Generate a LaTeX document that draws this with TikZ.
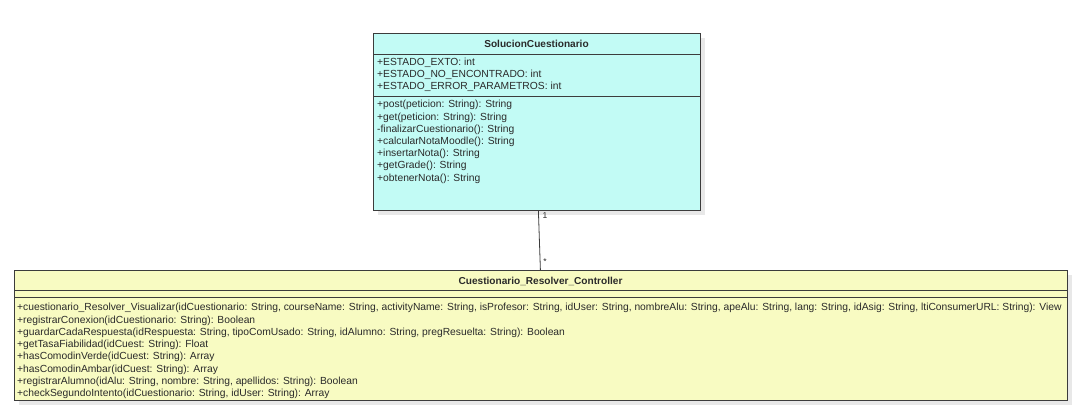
\documentclass[tikz,border=0pt]{standalone}
\usepackage{fontspec}
\setmainfont{Liberation Sans}
\begin{document}
\begin{tikzpicture}[x=1pt,y=-1pt,
  classA/.style={draw=linec, fill=cyanfill, line width=0.8pt, inner sep=0pt, anchor=north west},
  classB/.style={draw=linec, fill=yelfill, line width=0.8pt, inner sep=0pt, anchor=north west},
  member/.style={anchor=base west, inner sep=0pt, font=\fontsize{10.3}{12}\selectfont, text=textc},
  title/.style={anchor=base, inner sep=0pt, font=\fontsize{10.1}{12}\selectfont\bfseries, text=textc},
  mult/.style={inner sep=0pt, font=\fontsize{8.5}{10}\selectfont, text=textc},
  sep/.style={draw=linec, line width=0.8pt},
  assoc/.style={draw=linec, line width=0.8pt}]
\definecolor{cyanfill}{HTML}{C2FBF5}
\definecolor{yelfill}{HTML}{F8FBC2}
\definecolor{linec}{HTML}{3C3C3C}
\definecolor{shadowc}{HTML}{E8E8E8}
\definecolor{textc}{HTML}{2A2A2A}
\useasboundingbox (0,0) rectangle (1085,414);
\fill[white] (0,0) rectangle (1085,414);
% shadows
\fill[shadowc] (378,38) rectangle (705,215);
\fill[shadowc] (19,275) rectangle (1072,405);
% top class
\node[classA, minimum width=327pt, minimum height=177pt] (sol) at (373,33) {};
\draw[sep] (373,54) -- (700,54);
\draw[sep] (373,96) -- (700,96);
\node[title] (solt) at (536.5,48) {SolucionCuestionario};
\foreach \t [count=\i] in {{+ESTADO\_EXTO: int},{+ESTADO\_NO\_ENCONTRADO: int},{+ESTADO\_ERROR\_PARAMETROS: int}}
  \node[member] (sa\i) at (377,{66+12*(\i-1)}) {\t};
\foreach \t [count=\i] in {{+post(peticion: String): String},{+get(peticion: String): String},{-finalizarCuestionario(): String},{+calcularNotaMoodle(): String},{+insertarNota(): String},{+getGrade(): String},{+obtenerNota(): String}}
  \node[member] (sm\i) at (377,{108+12.2*(\i-1)}) {\t};
% bottom class
\node[classB, minimum width=1053pt, minimum height=130pt] (ctrl) at (14,270) {};
\draw[sep] (14,290) -- (1067,290);
\draw[sep] (14,297) -- (1067,297);
\node[title] (ctrlt) at (540.5,284) {Cuestionario\_Resolver\_Controller};
\foreach \t [count=\i] in {{+cuestionario\_Resolver\_Visualizar(idCuestionario: String, courseName: String, activityName: String, isProfesor: String, idUser: String, nombreAlu: String, apeAlu: String, lang: String, idAsig: String, ltiConsumerURL: String): View},{+registrarConexion(idCuestionario: String): Boolean},{+guardarCadaRespuesta(idRespuesta: String, tipoComUsado: String, idAlumno: String, pregResuelta: String): Boolean},{+getTasaFiabilidad(idCuest: String): Float},{+hasComodinVerde(idCuest: String): Array},{+hasComodinAmbar(idCuest: String): Array},{+registrarAlumno(idAlu: String, nombre: String, apellidos: String): Boolean},{+checkSegundoIntento(idCuestionario: String, idUser: String): Array}}
  \node[member] (cm\i) at (17,{311+12.2*(\i-1)}) {\t};
% association
\draw[assoc] ([xshift=1.5pt]sol.south) -- ([xshift=-0.5pt]ctrl.north);
\node[mult] (m1) at (545,216) {1};
\node[mult] (m2) at (545,262) {*};
\end{tikzpicture}
\end{document}
